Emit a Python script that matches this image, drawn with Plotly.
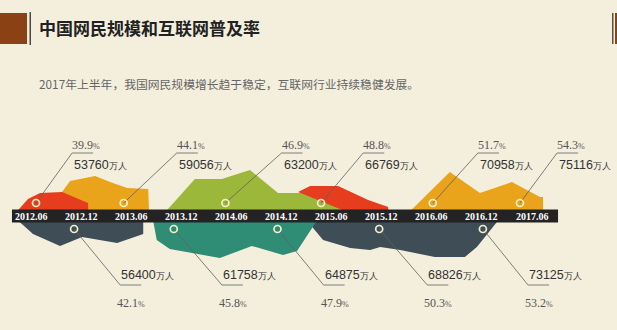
import plotly.graph_objects as go

# ---------------- data ----------------
periods = ["2012.06", "2012.12", "2013.06", "2013.12", "2014.06", "2014.12",
           "2015.06", "2015.12", "2016.06", "2016.12", "2017.06"]
users_wan = [53760, 56400, 59056, 61758, 63200, 64875, 66769, 68826, 70958, 73125, 75116]
rate_pct = [39.9, 42.1, 44.1, 45.8, 46.9, 47.9, 48.8, 50.3, 51.7, 53.2, 54.3]

title_text = "中国网民规模和互联网普及率"
subtitle_text = "2017年上半年，我国网民规模增长趋于稳定，互联网行业持续稳健发展。"

# ---------------- layout helpers (not data) ----------------
# horizontal reach of each leader line, in period-index units
leader_reach = [0.72, 0.92, 1.06, 0.96, 1.12, 0.92, 0.84, 0.96, 0.9, 0.9, 0.74]
marker_shift = [0.1, -0.14, -0.15, -0.15, -0.12, -0.08, -0.21, -0.05, 0.02, 0.02, -0.24]

# decorative blob outlines (x: period index, y: height above the date band)
blob_orange1 = ([0.5, 0.62, 0.78, 1.28, 1.58, 1.92, 2.34, 2.36], [0, 24, 35, 40, 34, 28, 27, 0])
blob_red1 = ([-0.36, -0.06, 0.18, 0.62, 1.14, 1.14], [0, 17, 23, 24, 13, 0])
blob_green = ([2.61, 3.27, 3.81, 4.37, 4.93, 5.41, 6.27, 6.41], [0, 37, 37, 46, 23, 23, 16, 0])
blob_red2 = ([5.33, 5.57, 6.13, 6.73, 7.13, 7.13, 6.51], [24, 30, 30, 16, 9, 0, 0])
blob_yellow2 = ([7.47, 8.36, 8.96, 9.6, 10.16, 10.22, 10.22], [0, 44, 23, 34, 19, 19, 0])
blob_slate1 = ([-0.36, 0.04, 0.58, 1.02, 1.72, 2.24, 2.24], [0, -18, -30, -21, -27, -18, 0])
blob_slate2 = ([5.43, 5.83, 6.37, 6.77, 6.97, 7.37, 8.06, 8.66, 8.9, 9.3, 9.3],
               [0, -24, -32, -34, -31, -34, -41, -41, -31, -6, 0])
blob_teal = ([2.42, 2.51, 2.77, 3.77, 4.41, 5.03, 5.31, 5.69, 5.69],
             [0, -24, -33, -42, -30, -39, -35, -6, 0])

RED = "#e53d1d"
ORANGE = "#e9a41b"
GREEN = "#9bb83b"
TEAL = "#2f8d76"
SLATE = "#3f4d56"
BG = "#f3efdc"

fig = go.Figure()

def blob(xy, color):
    xs, ys = xy
    fig.add_trace(go.Scatter(x=list(xs) + [xs[0]], y=list(ys) + [ys[0]], mode="lines",
                             fill="toself", fillcolor=color, line=dict(width=0, color=color),
                             hoverinfo="skip", showlegend=False))

blob(blob_orange1, ORANGE)
blob(blob_red1, RED)
blob(blob_green, GREEN)
blob(blob_red2, RED)
blob(blob_yellow2, ORANGE)
blob(blob_slate1, SLATE)
blob(blob_slate2, SLATE)
blob(blob_teal, TEAL)

# leader lines + circles
LINE_C = "#606060"
lx, ly = [], []
cx, cy = [], []
ann = []
pct_font = dict(family="Liberation Serif", size=12, color="#555")
cnt_font = dict(family="Liberation Sans", size=12.5, color="#333")
for i, (p, u, r) in enumerate(zip(periods, users_wan, rate_pct)):
    up = (i % 2 == 0)
    x0 = i + marker_shift[i]
    y0 = 13 if up else -13
    cx.append(x0); cy.append(y0)
    xt = x0 + leader_reach[i]
    if up:
        yt = 63
        lx += [x0, xt, xt + 0.42, None]; ly += [y0, yt, yt, None]
        ann.append(dict(x=xt - 0.04, y=71, text=f"{r}<span style='font-size:8px'>%</span>",
                        font=pct_font, xanchor="left", yanchor="middle"))
        ann.append(dict(x=xt, y=51, text=f"{u}<span style='font-size:9px'>万人</span>",
                        font=cnt_font, xanchor="left", yanchor="middle"))
    else:
        yt = -69
        lx += [x0, xt, xt + 0.42, None]; ly += [y0, yt, yt, None]
        ann.append(dict(x=xt - 0.1, y=-87, text=f"{r}<span style='font-size:8px'>%</span>",
                        font=pct_font, xanchor="left", yanchor="middle"))
        ann.append(dict(x=xt - 0.02, y=-59, text=f"{u}<span style='font-size:9px'>万人</span>",
                        font=cnt_font, xanchor="left", yanchor="middle"))
    # date label on band
    ann.append(dict(x=i, y=0, text=f"<b>{p}</b>",
                    font=dict(family="Liberation Serif", size=10, color="#ffffff"),
                    xanchor="center", yanchor="middle"))

fig.add_trace(go.Scatter(x=lx, y=ly, mode="lines", line=dict(color=LINE_C, width=0.8),
                         hoverinfo="skip", showlegend=False))
fig.add_trace(go.Scatter(x=cx, y=cy, mode="markers",
                         marker=dict(symbol="circle-open", size=7, color="#f4f1c8",
                                     line=dict(width=1.7, color="#f4f1c8")),
                         hoverinfo="skip", showlegend=False))

for a in ann:
    a.update(xref="x", yref="y", showarrow=False)

# title and subtitle
ann.append(dict(xref="paper", yref="paper", x=37 / 617, y=1 - 28 / 330, text=f"<b>{title_text}</b>",
                font=dict(family="Noto Sans CJK SC", size=17, color="#222"),
                xanchor="left", yanchor="middle", showarrow=False))
ann.append(dict(xref="paper", yref="paper", x=37 / 617, y=1 - 84 / 330, text=subtitle_text,
                font=dict(family="Noto Sans CJK SC", size=11.8, color="#666"),
                xanchor="left", yanchor="middle", showarrow=False))

shapes = [
    # date band
    dict(type="rect", xref="x", yref="y", x0=-0.38, x1=10.52, y0=-6.5, y1=6.5,
         fillcolor="#232323", line=dict(width=0), layer="above"),
    # header decorations
    dict(type="rect", xref="paper", yref="paper", x0=0, x1=27 / 617, y0=1 - 44 / 330, y1=1 - 13 / 330,
         fillcolor="#8a4214", line=dict(width=0)),
    dict(type="rect", xref="paper", yref="paper", x0=29.5 / 617, x1=31 / 617, y0=1 - 45 / 330, y1=1 - 12 / 330,
         fillcolor="#4a4a4a", line=dict(width=0)),
    dict(type="rect", xref="paper", yref="paper", x0=612 / 617, x1=613.5 / 617, y0=1 - 44 / 330, y1=1 - 13 / 330,
         fillcolor="#5a5048", line=dict(width=0)),
    dict(type="rect", xref="paper", yref="paper", x0=615 / 617, x1=1, y0=1 - 44 / 330, y1=1 - 13 / 330,
         fillcolor="#8a4214", line=dict(width=0)),
]

fig.update_layout(
    width=617, height=330, margin=dict(l=0, r=0, t=0, b=0),
    paper_bgcolor=BG, plot_bgcolor=BG,
    xaxis=dict(range=[-31 / 50.1, 586 / 50.1], visible=False, fixedrange=True),
    yaxis=dict(range=[-114, 216], visible=False, fixedrange=True),
    annotations=ann, shapes=shapes, showlegend=False,
)

fig.write_html("out.html")
